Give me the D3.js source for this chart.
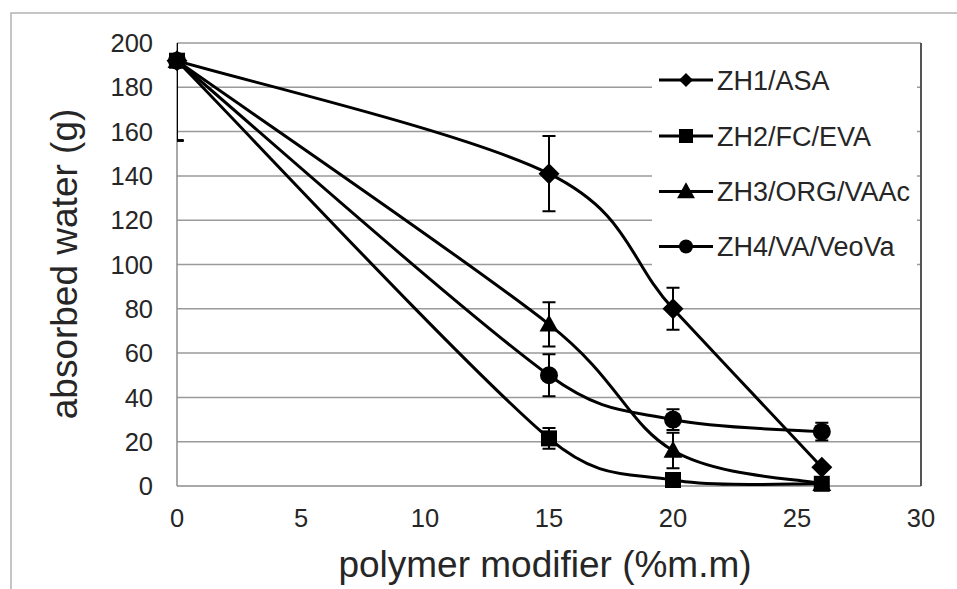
<!DOCTYPE html>
<html>
<head>
<meta charset="utf-8">
<script src="https://cdn.jsdelivr.net/npm/d3@7"></script>
<style>
  html, body { margin: 0; padding: 0; background: #fff; }
  svg { display: block; }
  text { font-family: "Liberation Sans", Arial, sans-serif; fill: #262626; }
</style>
</head>
<body>
<svg id="chart" width="957" height="589"></svg>
<script>
// Modifier content (% m/m) shared by every series
const modifierContent = [0, 15, 20, 26];

// Absorbed water (g) per formulation, with standard deviations
const zh1Values = [192, 141, 80, 8.5];
const zh1Errors = [36, 17, 9.5, 0];
const zh2Values = [192, 21.5, 2.7, 1];
const zh2Errors = [36, 4.7, 0, 0];
const zh3Values = [192, 73, 16, 1];
const zh3Errors = [36, 10, 8, 0];
const zh4Values = [192, 50, 30, 24.5];
const zh4Errors = [36, 9.5, 4.7, 4];

const seriesNames = ["ZH1/ASA", "ZH2/FC/EVA", "ZH3/ORG/VAAc", "ZH4/VA/VeoVa"];
const seriesMarkers = ["diamond", "square", "triangle", "circle"];

const xTicks = [0, 5, 10, 15, 20, 25, 30];
const yTicks = [0, 20, 40, 60, 80, 100, 120, 140, 160, 180, 200];

const xTitle = "polymer modifier (%m.m)";
const yTitle = "absorbed water (g)";

const series = [
  { name: seriesNames[0], marker: seriesMarkers[0], values: zh1Values, errors: zh1Errors },
  { name: seriesNames[1], marker: seriesMarkers[1], values: zh2Values, errors: zh2Errors },
  { name: seriesNames[2], marker: seriesMarkers[2], values: zh3Values, errors: zh3Errors },
  { name: seriesNames[3], marker: seriesMarkers[3], values: zh4Values, errors: zh4Errors }
];

const svg = d3.select("#chart");
const plot = { left: 177, right: 921, top: 43, bottom: 486 };

const x = d3.scaleLinear().domain([0, 30]).range([plot.left, plot.right]);
const y = d3.scaleLinear().domain([0, 200]).range([plot.bottom, plot.top]);

svg.append("rect").attr("width", 957).attr("height", 589).attr("fill", "#fff");

// outer frame (top and left edges)
svg.append("path")
  .attr("d", "M11,589 L11,13 L957,13")
  .attr("fill", "none").attr("stroke", "#b3b3b3").attr("stroke-width", 1.5);

// clip region for data lines and error bars
svg.append("defs").append("clipPath").attr("id", "plotClip")
  .append("rect")
  .attr("x", plot.left).attr("y", plot.top)
  .attr("width", plot.right - plot.left).attr("height", plot.bottom - plot.top);

// horizontal gridlines
svg.append("g").selectAll("line").data(yTicks.filter(d => d > 0)).join("line")
  .attr("x1", plot.left).attr("x2", plot.right)
  .attr("y1", d => y(d)).attr("y2", d => y(d))
  .attr("stroke", "#9a9a9a").attr("stroke-width", 1.5);

// axes lines
svg.append("line").attr("x1", plot.left).attr("x2", plot.left)
  .attr("y1", plot.top).attr("y2", plot.bottom)
  .attr("stroke", "#8c8c8c").attr("stroke-width", 1.5);
svg.append("line").attr("x1", plot.left).attr("x2", plot.right)
  .attr("y1", plot.bottom).attr("y2", plot.bottom)
  .attr("stroke", "#8c8c8c").attr("stroke-width", 1.5);

// y tick labels
svg.append("g").selectAll("text").data(yTicks).join("text")
  .attr("x", 153).attr("y", d => y(d)).attr("dy", "0.36em")
  .attr("text-anchor", "end").attr("font-size", 25.5)
  .text(d => d);

// x tick labels
svg.append("g").selectAll("text").data(xTicks).join("text")
  .attr("x", d => x(d)).attr("y", 527)
  .attr("text-anchor", "middle").attr("font-size", 25.5)
  .text(d => d);

// axis titles
svg.append("text")
  .attr("x", 545).attr("y", 577)
  .attr("text-anchor", "middle").attr("font-size", 37)
  .text(xTitle);
svg.append("text")
  .attr("transform", "translate(77,264) rotate(-90)")
  .attr("text-anchor", "middle").attr("font-size", 37)
  .text(yTitle);

// Smooth Bezier through the points (Catmull-Rom style tangents, 1/6 arms),
// with each arm limited to half the span it belongs to so short spans don't overshoot.
function smoothPath(pts) {
  const dist = (a, b) => Math.hypot(b[0] - a[0], b[1] - a[1]);
  const arm = (from, to, span) => {
    let dx = (to[0] - from[0]) / 6, dy = (to[1] - from[1]) / 6;
    const len = Math.hypot(dx, dy), cap = span / 2;
    if (len > cap && len > 0) { dx *= cap / len; dy *= cap / len; }
    return [dx, dy];
  };
  const path = d3.path();
  path.moveTo(pts[0][0], pts[0][1]);
  for (let i = 0; i < pts.length - 1; i++) {
    const p0 = pts[i - 1] || pts[i];
    const p1 = pts[i];
    const p2 = pts[i + 1];
    const p3 = pts[i + 2] || pts[i + 1];
    const d12 = dist(p1, p2);
    const a1 = arm(p0, p2, d12);
    const a2 = arm(p1, p3, d12);
    path.bezierCurveTo(p1[0] + a1[0], p1[1] + a1[1], p2[0] - a2[0], p2[1] - a2[1], p2[0], p2[1]);
  }
  return path.toString();
}

const dataLayer = svg.append("g").attr("clip-path", "url(#plotClip)");
dataLayer.selectAll("path.series").data(series).join("path")
  .attr("class", "series")
  .attr("d", s => smoothPath(s.values.map((v, i) => [x(modifierContent[i]), y(v)])))
  .attr("fill", "none").attr("stroke", "#000").attr("stroke-width", 3);

// error bars
const errorData = series.flatMap(s => s.values.map((v, i) => ({ xv: modifierContent[i], v, e: s.errors[i] })))
  .filter(d => d.e > 0);
const capHalf = 6.5;
dataLayer.selectAll("path.err").data(errorData).join("path")
  .attr("class", "err")
  .attr("d", d => {
    const cx = x(d.xv), y1 = y(d.v + d.e), y2 = y(d.v - d.e);
    return `M${cx},${y1}L${cx},${y2}M${cx - capHalf},${y1}L${cx + capHalf},${y1}M${cx - capHalf},${y2}L${cx + capHalf},${y2}`;
  })
  .attr("fill", "none").attr("stroke", "#000").attr("stroke-width", 2);

// marker shapes
function markerPath(kind, s) {
  switch (kind) {
    case "diamond": return `M0,${-s}L${s},0L0,${s}L${-s},0Z`;
    case "square": return `M${-s},${-s}H${s}V${s}H${-s}Z`;
    case "triangle": return `M0,${-s * 1.1}L${s * 1.05},${s * 0.8}L${-s * 1.05},${s * 0.8}Z`;
    default: return d3.arc()({ innerRadius: 0, outerRadius: s, startAngle: 0, endAngle: 2 * Math.PI });
  }
}
const markerSize = { diamond: 10.5, square: 8, triangle: 9, circle: 9 };
const legendMarkerSize = { diamond: 7, square: 7, triangle: 8.5, circle: 7 };

series.forEach(s => {
  svg.append("g").selectAll("path").data(s.values).join("path")
    .attr("transform", (d, i) => `translate(${x(modifierContent[i])},${y(d)})`)
    .attr("d", markerPath(s.marker, markerSize[s.marker]))
    .attr("fill", "#000");
});

// legend
const legend = svg.append("g");
legend.append("rect")
  .attr("x", 652).attr("y", 52).attr("width", 265).attr("height", 220)
  .attr("fill", "#fff");
const legendRows = [80, 136, 191.5, 246.5];
series.forEach((s, i) => {
  const g = legend.append("g").attr("transform", `translate(0,${legendRows[i]})`);
  g.append("line").attr("x1", 659).attr("x2", 713).attr("y1", 0).attr("y2", 0)
    .attr("stroke", "#000").attr("stroke-width", 3);
  g.append("path").attr("transform", "translate(686,0)")
    .attr("d", markerPath(s.marker, legendMarkerSize[s.marker])).attr("fill", "#000");
  g.append("text").attr("x", 717).attr("y", 0).attr("dy", "0.36em")
    .attr("font-size", 27).text(s.name);
});

// right edge line of the plot area
svg.append("line").attr("x1", plot.right).attr("x2", plot.right)
  .attr("y1", plot.top).attr("y2", plot.bottom)
  .attr("stroke", "#555").attr("stroke-width", 2);
</script>
</body>
</html>
